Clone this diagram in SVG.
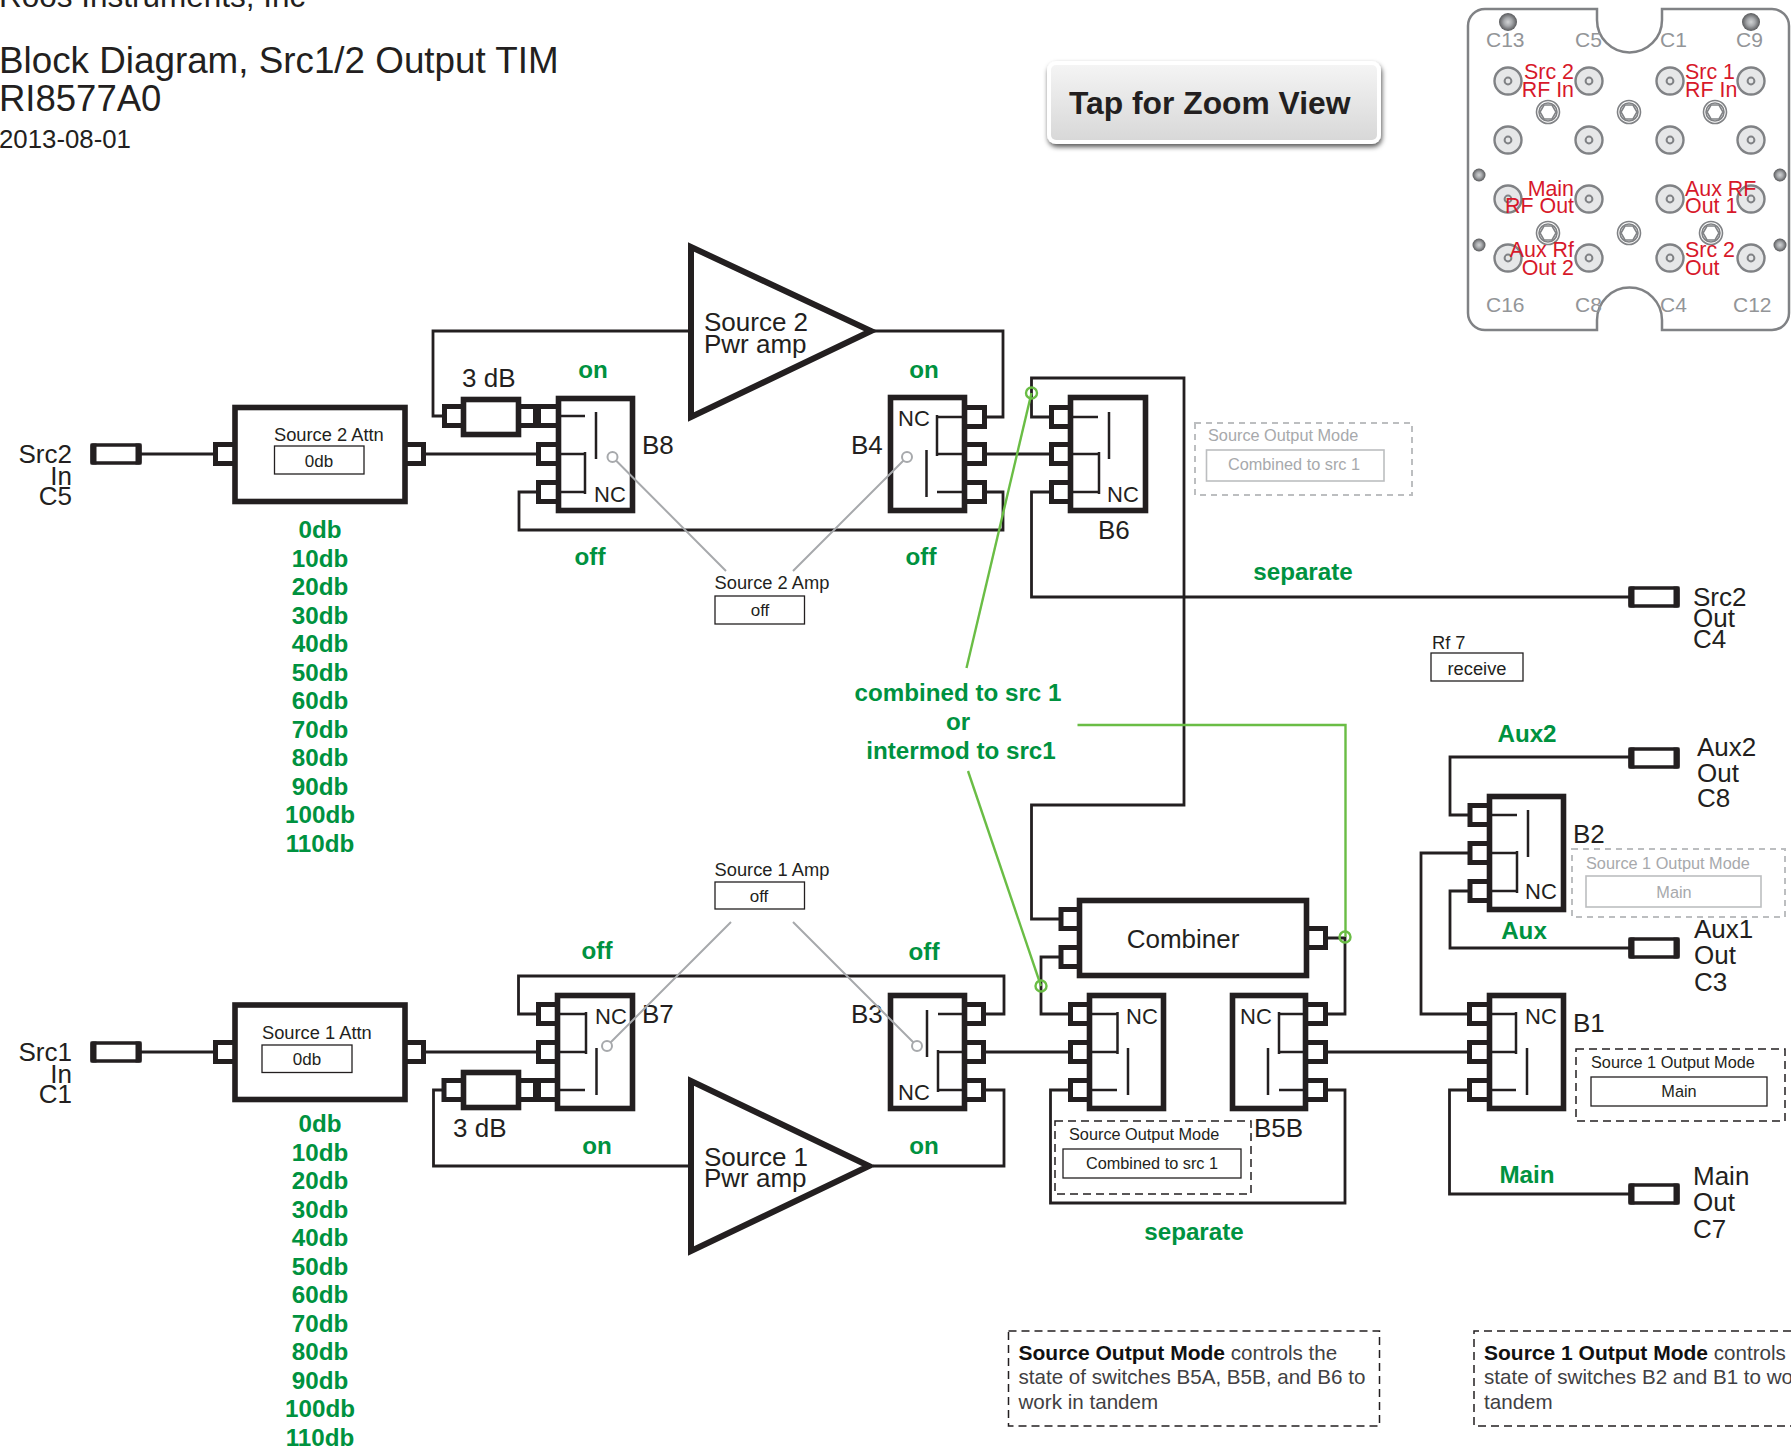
<svg xmlns="http://www.w3.org/2000/svg" width="1791" height="1451" viewBox="0 0 1791 1451">
<style>
text{font-family:"Liberation Sans",Arial,sans-serif;fill:#231f20}
.w{fill:none;stroke:#231f20;stroke-width:2.8}
.b{fill:#fff;stroke:#231f20;stroke-width:5.6}
.i{fill:none;stroke:#231f20;stroke-width:2.5}
.gl{fill:none;stroke:#a7a9ac;stroke-width:2}
.gc{fill:#fff;stroke:#a7a9ac;stroke-width:2}
.gn{fill:none;stroke:#6abd45;stroke-width:2.4}
.l{font-size:26px}
.nc{font-size:22px}
.s{font-size:18.3px}
.v{font-size:16.3px}
.x{font-size:17px}
.g{font-size:24.2px;font-weight:700;fill:#00923f;text-anchor:middle}
.m{text-anchor:middle}
.e{text-anchor:end}
.box{fill:#fff;stroke:#231f20;stroke-width:1.3}
.dash{fill:none;stroke:#231f20;stroke-width:1.5;stroke-dasharray:8 5}
.dim{fill:#a7a9ac}
.gbox{fill:#fff;stroke:#bcbec0;stroke-width:1.6}
.gdash{fill:none;stroke:#bcbec0;stroke-width:2;stroke-dasharray:6 5}
.c{font-size:21px;fill:#939598}
.r{font-size:21.4px;fill:#d7182a}
.n{font-size:20.6px;fill:#414042}
.n tspan.bd{font-size:21px;font-weight:700;fill:#111}
.pn{fill:#fff;stroke:#808285;stroke-width:2.5}
.co{fill:#e6e7e8;stroke:#808285;stroke-width:2.4}
.hx{fill:#fff;stroke:#808285;stroke-width:1.6}
</style>
<defs>
<rect id="pl" x="2.5" y="-9.5" width="20" height="19" fill="#fff" stroke="#231f20" stroke-width="5"/>
<rect id="pr" x="-22.5" y="-9.5" width="20" height="19" fill="#fff" stroke="#231f20" stroke-width="5"/>
<g id="cn"><rect x="1.5" y="1.5" width="48" height="18" rx="1" fill="#fff" stroke="#231f20" stroke-width="3.4"/><path d="M3 0V21M48 0V21" stroke="#231f20" stroke-width="6" fill="none"/></g>
<g id="co"><circle r="13.5" class="co"/><circle r="3.4" fill="#e6e7e8" stroke="#808285" stroke-width="2"/></g>
<g id="hx"><circle r="11.5" class="hx"/><circle r="9" class="hx"/><polygon points="-8,0 -4,-7 4,-7 8,0 4,7 -4,7" class="hx"/></g>
<radialGradient id="sc"><stop offset="0" stop-color="#d1d3d4"/><stop offset=".45" stop-color="#a7a9ac"/><stop offset="1" stop-color="#58595b"/></radialGradient>
<linearGradient id="bt" x1="0" y1="0" x2="0" y2="1"><stop offset="0" stop-color="#f4f4f4"/><stop offset="1" stop-color="#d8d8d8"/></linearGradient>
<filter id="sh" x="-5%" y="-15%" width="110%" height="135%"><feDropShadow dx="1" dy="3" stdDeviation="2.5" flood-color="#000" flood-opacity=".65"/></filter>
</defs>

<g id="title">
<text x="-1" y="7" font-size="31.5">Roos Instruments, Inc</text>
<text x="-1" y="73" font-size="36.8">Block Diagram, Src1/2 Output TIM</text>
<text x="-1" y="111" font-size="36.5">RI8577A0</text>
<text x="-1" y="148" font-size="25.8">2013-08-01</text>
</g>

<g id="zoom-button">
<rect x="1047" y="61" width="334" height="83" rx="9" fill="#fff" filter="url(#sh)"/>
<rect x="1051" y="65" width="326" height="75" rx="5" fill="url(#bt)"/>
<text x="1069" y="114" font-size="31.8" font-weight="700" fill="#231f20">Tap for Zoom View</text>
</g>

<g id="connector-panel">
<path class="pn" d="M1485 9H1597V20A32.5 32.5 0 0 0 1662 20V9H1772A17 17 0 0 1 1789 26V313A17 17 0 0 1 1772 330H1662V320A32.5 32.5 0 0 0 1597 320V330H1485A17 17 0 0 1 1468 313V26A17 17 0 0 1 1485 9Z"/>
<circle cx="1508" cy="22" r="9" fill="url(#sc)"/><circle cx="1751" cy="22" r="9" fill="url(#sc)"/>
<circle cx="1479" cy="175" r="6.5" fill="url(#sc)"/><circle cx="1780" cy="175" r="6.5" fill="url(#sc)"/>
<circle cx="1479" cy="245" r="6.5" fill="url(#sc)"/><circle cx="1780" cy="245" r="6.5" fill="url(#sc)"/>
<use href="#co" x="1508" y="81"/><use href="#co" x="1589" y="81"/><use href="#co" x="1670" y="81"/><use href="#co" x="1751" y="81"/>
<use href="#co" x="1508" y="140"/><use href="#co" x="1589" y="140"/><use href="#co" x="1670" y="140"/><use href="#co" x="1751" y="140"/>
<use href="#co" x="1508" y="199"/><use href="#co" x="1589" y="199"/><use href="#co" x="1670" y="199"/><use href="#co" x="1751" y="199"/>
<use href="#co" x="1508" y="258"/><use href="#co" x="1589" y="258"/><use href="#co" x="1670" y="258"/><use href="#co" x="1751" y="258"/>
<use href="#hx" x="1548" y="112"/><use href="#hx" x="1629" y="112"/><use href="#hx" x="1715" y="112"/>
<use href="#hx" x="1548" y="233"/><use href="#hx" x="1629" y="233"/><use href="#hx" x="1711" y="233"/>
<text class="c" x="1486" y="47">C13</text><text class="c" x="1575" y="47">C5</text><text class="c" x="1660" y="47">C1</text><text class="c" x="1736" y="47">C9</text>
<text class="c" x="1486" y="312">C16</text><text class="c" x="1575" y="312">C8</text><text class="c" x="1660" y="312">C4</text><text class="c" x="1733" y="312">C12</text>
<text class="r e" x="1574" y="79">Src 2</text><text class="r e" x="1574" y="97">RF In</text>
<text class="r" x="1685" y="79">Src 1</text><text class="r" x="1685" y="97">RF In</text>
<text class="r e" x="1574" y="196">Main</text><text class="r e" x="1574" y="213">RF Out</text>
<text class="r" x="1685" y="196">Aux RF</text><text class="r" x="1685" y="213">Out 1</text>
<text class="r e" x="1574" y="257">Aux Rf</text><text class="r e" x="1574" y="275">Out 2</text>
<text class="r" x="1685" y="257">Src 2</text><text class="r" x="1685" y="275">Out</text>
</g>

<g id="connectors">
<path class="w" d="M141 454H213"/>
<path class="w" d="M426 454H536"/>
<path class="w" d="M690 331H433V416H442"/>
<path class="w" d="M536 492H519V530H1003V492H987"/>
<path class="w" d="M870 331H1003V417H987"/>
<path class="w" d="M987 454H1049"/>
<path class="w" d="M1049 417H1031.5V378H1184V805H1031.5V919H1059"/>
<path class="w" d="M1049 492H1031.5V597H1629"/>
<path class="w" d="M141 1052H213"/>
<path class="w" d="M426 1052H536"/>
<path class="w" d="M536 1014H518.5V976H1004V1014H986"/>
<path class="w" d="M442 1090H433.5V1166H690"/>
<path class="w" d="M873 1166H1004V1090H986"/>
<path class="w" d="M986 1052H1068"/>
<path class="w" d="M1059 957H1041V1014H1068"/>
<path class="w" d="M1328 938H1345V1014H1328"/>
<path class="w" d="M1068 1090H1050.5V1203H1345V1090H1328"/>
<path class="w" d="M1328 1052H1467"/>
<path class="w" d="M1629 757H1450V815H1468"/>
<path class="w" d="M1468 853H1421V1014H1467"/>
<path class="w" d="M1468 891H1450V948H1629"/>
<path class="w" d="M1467 1090H1449.5V1194H1629"/>
</g>

<g id="src2-in"><use href="#cn" x="90.5" y="443.5"/>
<text class="l e" x="72" y="463">Src2</text><text class="l e" x="72" y="485">In</text><text class="l e" x="72" y="505">C5</text></g>
<g id="src1-in"><use href="#cn" x="90.5" y="1041.5"/>
<text class="l e" x="72" y="1061">Src1</text><text class="l e" x="72" y="1083">In</text><text class="l e" x="72" y="1103">C1</text></g>

<g id="source2-attn">
<use href="#pl" x="213" y="454"/><use href="#pr" x="426" y="454"/>
<rect class="b" x="235" y="407.5" width="170" height="94"/>
<text class="s" x="274" y="441">Source 2 Attn</text>
<rect class="box" x="274.5" y="446" width="89.5" height="28"/>
<text class="x m" x="319" y="467">0db</text>
</g>
<g id="source1-attn">
<use href="#pl" x="213" y="1052"/><use href="#pr" x="426" y="1052"/>
<rect class="b" x="235" y="1005" width="170" height="94.5"/>
<text class="s" x="262" y="1039">Source 1 Attn</text>
<rect class="box" x="262" y="1045" width="90" height="27.5"/>
<text class="x m" x="307" y="1065">0db</text>
</g>

<g id="attn2-list">
<text class="g" x="320" y="538">0db</text><text class="g" x="320" y="567">10db</text><text class="g" x="320" y="595">20db</text><text class="g" x="320" y="624">30db</text><text class="g" x="320" y="652">40db</text><text class="g" x="320" y="681">50db</text><text class="g" x="320" y="709">60db</text><text class="g" x="320" y="738">70db</text><text class="g" x="320" y="766">80db</text><text class="g" x="320" y="795">90db</text><text class="g" x="320" y="823">100db</text><text class="g" x="320" y="852">110db</text>
</g>
<g id="attn1-list">
<text class="g" x="320" y="1132">0db</text><text class="g" x="320" y="1161">10db</text><text class="g" x="320" y="1189">20db</text><text class="g" x="320" y="1218">30db</text><text class="g" x="320" y="1246">40db</text><text class="g" x="320" y="1275">50db</text><text class="g" x="320" y="1303">60db</text><text class="g" x="320" y="1332">70db</text><text class="g" x="320" y="1360">80db</text><text class="g" x="320" y="1389">90db</text><text class="g" x="320" y="1417">100db</text><text class="g" x="320" y="1446">110db</text>
</g>

<g id="atten-3db-top">
<use href="#pl" x="442" y="416"/><use href="#pr" x="538" y="416"/>
<rect class="b" x="463.5" y="399.5" width="55" height="35"/>
<text class="l" x="462" y="387">3 dB</text>
</g>
<g id="atten-3db-bottom">
<use href="#pl" x="441.5" y="1090"/><use href="#pr" x="538" y="1090"/>
<rect class="b" x="463.5" y="1072.5" width="55" height="35"/>
<text class="l" x="453" y="1137">3 dB</text>
</g>

<g id="amp2">
<polygon class="b" style="stroke-width:6;stroke-linejoin:miter" points="691,247 691,417 871,331"/>
<text class="l" x="704" y="331">Source 2</text><text class="l" x="704" y="353">Pwr amp</text>
</g>
<g id="amp1">
<polygon class="b" style="stroke-width:6;stroke-linejoin:miter" points="691,1081 691,1251 869,1166"/>
<text class="l" x="704" y="1166">Source 1</text><text class="l" x="704" y="1187">Pwr amp</text>
</g>

<g id="B8">
<use href="#pl" x="536" y="416"/><use href="#pl" x="536" y="454"/><use href="#pl" x="536" y="492"/>
<rect class="b" x="558.5" y="398.5" width="74" height="112"/>
<path class="i" d="M558 416H585M596 412V459M558 454H585M585 452V494M558 492H585"/>
<text class="nc" x="594" y="502">NC</text><text class="l" x="642" y="454">B8</text>
</g>
<g id="B4">
<use href="#pr" x="987" y="417"/><use href="#pr" x="987" y="454"/><use href="#pr" x="987" y="492"/>
<rect class="b" x="890.5" y="397.5" width="74" height="113"/>
<path class="i" d="M965 417H937M937 415V456M965 454H937M926.5 450V497M965 492H937"/>
<text class="nc" x="898" y="426">NC</text><text class="l" x="851" y="454">B4</text>
</g>
<g id="B6">
<use href="#pl" x="1049" y="417"/><use href="#pl" x="1049" y="454"/><use href="#pl" x="1049" y="492"/>
<rect class="b" x="1070.5" y="397.5" width="75" height="113"/>
<path class="i" d="M1070 417H1098M1109 412V459M1070 454H1099M1099 452V494M1070 492H1099"/>
<text class="nc" x="1107" y="502">NC</text><text class="l" x="1098" y="539">B6</text>
</g>
<g id="B7">
<use href="#pl" x="536" y="1014"/><use href="#pl" x="536" y="1052"/><use href="#pl" x="536" y="1090"/>
<rect class="b" x="557.5" y="995.5" width="75" height="113"/>
<path class="i" d="M558 1014H586M586 1012V1054M558 1052H586M596.5 1048V1095M558 1090H585"/>
<text class="nc" x="595" y="1024">NC</text><text class="l" x="642" y="1023">B7</text>
</g>
<g id="B3">
<use href="#pr" x="986" y="1014"/><use href="#pr" x="986" y="1052"/><use href="#pr" x="986" y="1090"/>
<rect class="b" x="890.5" y="995.5" width="74" height="113"/>
<path class="i" d="M965 1014H938M927 1010V1057M965 1052H938M938 1050V1092M965 1090H938"/>
<text class="nc" x="898" y="1100">NC</text><text class="l" x="851" y="1023">B3</text>
</g>
<g id="combiner">
<use href="#pl" x="1058.5" y="919"/><use href="#pl" x="1058.5" y="957"/><use href="#pr" x="1328" y="938"/>
<rect class="b" x="1079.5" y="900.5" width="227" height="75"/>
<text class="l m" x="1183" y="948">Combiner</text>
</g>
<g id="B5A">
<use href="#pl" x="1068" y="1014"/><use href="#pl" x="1068" y="1052"/><use href="#pl" x="1068" y="1090"/>
<rect class="b" x="1089.5" y="995.5" width="74" height="113"/>
<path class="i" d="M1090 1014H1117.5M1117.5 1012V1054M1090 1052H1117.5M1128 1048V1095M1090 1090H1117"/>
<text class="nc" x="1126" y="1024">NC</text>
</g>
<g id="B5B">
<use href="#pr" x="1328" y="1014"/><use href="#pr" x="1328" y="1052"/><use href="#pr" x="1328" y="1090"/>
<rect class="b" x="1232.5" y="995.5" width="73" height="113"/>
<path class="i" d="M1306 1014H1279M1279 1012V1054M1306 1052H1279M1268 1048V1095M1306 1090H1279"/>
<text class="nc" x="1240" y="1024">NC</text><text class="l" x="1254" y="1137">B5B</text>
</g>
<g id="B2">
<use href="#pl" x="1467.5" y="815"/><use href="#pl" x="1467.5" y="853"/><use href="#pl" x="1467.5" y="891"/>
<rect class="b" x="1489.5" y="796.5" width="74" height="113"/>
<path class="i" d="M1490 815H1517M1528 810V857M1490 853H1517M1517 851V893M1490 891H1517"/>
<text class="nc" x="1525" y="899">NC</text><text class="l" x="1573" y="843">B2</text>
</g>
<g id="B1">
<use href="#pl" x="1467" y="1014"/><use href="#pl" x="1467" y="1052"/><use href="#pl" x="1467" y="1090"/>
<rect class="b" x="1489.5" y="995.5" width="74" height="113"/>
<path class="i" d="M1490 1014H1516M1516 1012V1054M1490 1052H1516M1527 1048V1095M1490 1090H1516"/>
<text class="nc" x="1525" y="1024">NC</text><text class="l" x="1573" y="1032">B1</text>
</g>

<g id="state-labels">
<text class="g" x="593" y="378">on</text><text class="g" x="590" y="565">off</text>
<text class="g" x="924" y="378">on</text><text class="g" x="921" y="565">off</text>
<text class="g" x="597" y="959">off</text><text class="g" x="924" y="960">off</text>
<text class="g" x="597" y="1154">on</text><text class="g" x="924" y="1154">on</text>
<text class="g" x="1303" y="580">separate</text>
<text class="g" x="1194" y="1240">separate</text>
<text class="g" x="958" y="701">combined to src 1</text>
<text class="g" x="958" y="730">or</text>
<text class="g" x="961" y="759">intermod to src1</text>
<text class="g" x="1527" y="742">Aux2</text>
<text class="g" x="1524" y="939">Aux</text>
<text class="g" x="1527" y="1183">Main</text>
</g>

<g id="source2-amp">
<path class="gl" d="M612.5 457L726 571M907 457L793 571"/>
<circle class="gc" cx="612.5" cy="457" r="5"/><circle class="gc" cx="907" cy="457" r="5"/>
<text class="s m" x="772" y="589">Source 2 Amp</text>
<rect class="box" x="715" y="596" width="89.5" height="28"/>
<text class="x m" x="760" y="616">off</text>
</g>
<g id="source1-amp">
<path class="gl" d="M731 922L607 1046M793 922L917 1046"/>
<circle class="gc" cx="607" cy="1046" r="5"/><circle class="gc" cx="917" cy="1046" r="5"/>
<text class="s m" x="772" y="876">Source 1 Amp</text>
<rect class="box" x="715" y="882" width="89.5" height="27"/>
<text class="x m" x="759" y="902">off</text>
</g>

<g id="green-links">
<path class="gn" d="M1031.5 393L966.5 668"/>
<path class="gn" d="M968 771L1041 986"/>
<path class="gn" d="M1077.5 725H1345.5V937"/>
<circle class="gn" cx="1031.5" cy="393" r="5.5"/>
<circle class="gn" cx="1041" cy="986" r="5.5"/>
<circle class="gn" cx="1345" cy="937" r="5.5"/>
</g>

<g id="source-output-mode-top">
<rect class="gdash" x="1195" y="423" width="217" height="72"/>
<text class="v dim" x="1208" y="441">Source Output Mode</text>
<rect class="gbox" x="1206.5" y="450" width="177.5" height="31"/>
<text class="v dim m" x="1294" y="470">Combined to src 1</text>
</g>
<g id="source-output-mode">
<rect class="dash" x="1055" y="1121" width="196" height="73"/>
<text class="v" x="1069" y="1140">Source Output Mode</text>
<rect class="box" x="1063" y="1149" width="178" height="29"/>
<text class="v m" x="1152" y="1169">Combined to src 1</text>
</g>
<g id="source1-output-mode-top">
<rect class="gdash" x="1572" y="849" width="213" height="68"/>
<text class="v dim" x="1586" y="869">Source 1 Output Mode</text>
<rect class="gbox" x="1586" y="876" width="175" height="31"/>
<text class="v dim m" x="1674" y="898">Main</text>
</g>
<g id="source1-output-mode">
<rect class="dash" x="1576" y="1049" width="209" height="72"/>
<text class="v" x="1591" y="1068">Source 1 Output Mode</text>
<rect class="box" x="1591" y="1077" width="176" height="29"/>
<text class="v m" x="1679" y="1097">Main</text>
</g>

<g id="outputs">
<use href="#cn" x="1628.5" y="586.5"/>
<text class="l" x="1693" y="606">Src2</text><text class="l" x="1693" y="627">Out</text><text class="l" x="1693" y="648">C4</text>
<use href="#cn" x="1628.5" y="747.5"/>
<text class="l" x="1697" y="756">Aux2</text><text class="l" x="1697" y="782">Out</text><text class="l" x="1697" y="807">C8</text>
<use href="#cn" x="1628.5" y="937.5"/>
<text class="l" x="1694" y="938">Aux1</text><text class="l" x="1694" y="964">Out</text><text class="l" x="1694" y="991">C3</text>
<use href="#cn" x="1628.5" y="1183.5"/>
<text class="l" x="1693" y="1185">Main</text><text class="l" x="1693" y="1211">Out</text><text class="l" x="1693" y="1238">C7</text>
</g>

<g id="rf7">
<text class="s" x="1432" y="649">Rf 7</text>
<rect class="box" x="1431" y="653" width="92" height="28"/>
<text class="s m" x="1477" y="675">receive</text>
</g>

<g id="notes">
<rect class="dash" x="1008.5" y="1331" width="371" height="95"/>
<text class="n" x="1018.5" y="1360"><tspan class="bd">Source Output Mode</tspan> controls the</text>
<text class="n" x="1018.5" y="1384">state of switches B5A, B5B, and B6 to</text>
<text class="n" x="1018.5" y="1409">work in tandem</text>
<path class="dash" d="M1791 1331H1474V1426H1791"/>
<text class="n" x="1484" y="1360"><tspan class="bd">Source 1 Output Mode</tspan> controls t</text>
<text class="n" x="1484" y="1384">state of switches B2 and B1 to wo</text>
<text class="n" x="1484" y="1409">tandem</text>
</g>
</svg>
